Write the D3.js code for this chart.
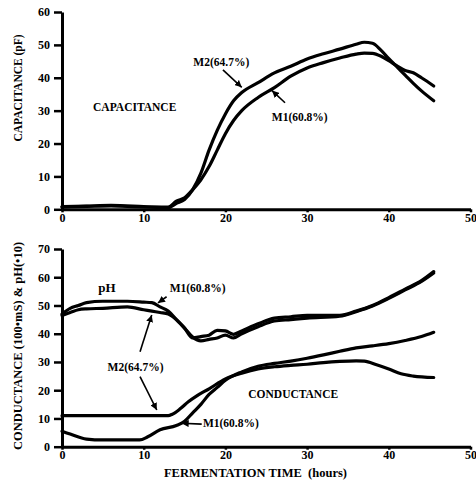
<!DOCTYPE html>
<html>
<head>
<meta charset="utf-8">
<script src="https://cdn.jsdelivr.net/npm/d3@7"></script>
<style>
  body { margin: 0; background: #fff; }
  text { font-family: "Liberation Serif", "DejaVu Serif", serif; font-weight: bold; fill: #000; }
</style>
</head>
<body>
<svg width="476" height="491"></svg>
<script>
// capacitance (pF), top panel
var capHours = [0, 3, 6, 10, 13, 14, 15, 16, 17, 18, 19, 20, 21, 22, 24, 26, 28, 30, 32, 34, 36, 37, 38, 39, 40, 41, 42, 43, 44, 45.5];
var capM2 = [0.8, 1, 1.2, 0.8, 0.5, 1.8, 3, 6, 11, 18, 24, 29, 33, 35.5, 38.5, 41.5, 43.5, 45.7, 47.3, 48.7, 50.2, 50.8, 50.5, 48.5, 45.8, 43.3, 40.8, 38.3, 36, 33];
var capM1 = [0.7, 0.9, 1, 0.7, 0.7, 2.5, 3.5, 6, 9, 13, 18, 23, 27, 30, 34, 37, 40.5, 43, 44.6, 46, 47.2, 47.5, 47.4, 46.6, 45.2, 43.6, 42.2, 41.5, 40, 37.5];

// pH (*10), bottom panel
var phHours = [0, 1, 2, 3, 5, 8, 10, 11, 12, 13, 14, 15, 16, 17, 18, 19, 20, 21, 22, 24, 26, 28, 30, 34, 36, 38, 40, 42, 44, 45.5];
var phM1 = [47, 49, 50, 51, 51.5, 51.5, 51.2, 51, 49.5, 48, 45, 42, 38.5, 39, 39.5, 41.2, 41, 39.8, 41, 43.5, 45.5, 46, 46.5, 46.5, 48, 50, 52.8, 55.8, 58.8, 62];
var phM2 = [46.5, 47.5, 48.5, 48.8, 49, 49.5, 48.5, 48, 47.5, 47, 45, 42, 38.8, 37.5, 38, 38.5, 39.5, 38.5, 40, 42.5, 44.5, 45, 45.5, 46.2, 47.8, 49.8, 52.5, 55.5, 58.5, 61.5];

// conductance (100*mS), bottom panel
var condHoursM1 = [0, 1, 3, 5, 9.5, 10.5, 12, 14, 15, 16, 17, 18, 19, 20, 22, 24, 26, 28, 30, 32, 34, 36, 38, 40, 42, 44, 45.5];
var condM1 = [5.5, 4.5, 2.7, 2.4, 2.4, 3.5, 6, 7.5, 9, 12, 15, 18.5, 21, 23.5, 26.5, 28.5, 29.5, 30.3, 31.3, 32.5, 33.8, 35, 35.7, 36.5, 37.6, 39, 40.5];
var condHoursM2 = [0, 5, 10, 13, 13.5, 14.5, 15.5, 16.5, 18, 20, 22, 24, 26, 28, 30, 32, 34, 36, 37, 38.5, 40, 41.5, 43, 45.5];
var condM2 = [11, 11, 11, 11, 11.5, 13.5, 16, 18, 20.5, 24, 26, 27.5, 28.3, 28.8, 29.2, 29.8, 30.2, 30.4, 30.3, 29, 27.5, 25.8, 25, 24.5];

var xTicks = [0, 10, 20, 30, 40, 50];
var capTicks = [0, 10, 20, 30, 40, 50, 60];
var condTicks = [0, 10, 20, 30, 40, 50, 60, 70];

var svg = d3.select('svg');

var xScale = d3.scaleLinear().domain([0, 50]).range([62, 470.5]);
var yTop = d3.scaleLinear().domain([0, 60]).range([209.3, 12]);
var yBot = d3.scaleLinear().domain([0, 70]).range([446.7, 249]);

svg.append('defs').append('marker')
    .attr('id', 'head')
    .attr('viewBox', '0 0 10 10')
    .attr('refX', 10)
    .attr('refY', 5)
    .attr('markerWidth', 7)
    .attr('markerHeight', 7)
    .attr('markerUnits', 'userSpaceOnUse')
    .attr('orient', 'auto')
  .append('path')
    .attr('d', 'M0,0 L10,5 L0,10 z')
    .attr('fill', '#000');

function drawAxes(yScale, ticks) {
    var xAxis = d3.axisBottom(xScale).tickValues(xTicks).tickSize(3).tickSizeOuter(0).tickPadding(1);
    var yAxis = d3.axisLeft(yScale).tickValues(ticks).tickSize(8).tickSizeOuter(0).tickPadding(4);

    var gx = svg.append('g')
        .attr('transform', 'translate(0,' + yScale(0) + ')')
        .call(xAxis);
    var gy = svg.append('g')
        .attr('transform', 'translate(' + xScale(0) + ',0)')
        .call(yAxis);

    [gx, gy].forEach(function(g) {
        g.select('.domain').attr('stroke', '#000').attr('stroke-width', 3);
        g.selectAll('.tick line').attr('stroke', '#000').attr('stroke-width', 2.5);
        g.selectAll('.tick text')
            .attr('font-family', '"Liberation Serif", serif')
            .attr('font-weight', 'bold')
            .attr('font-size', 12)
            .attr('fill', '#000');
    });
}

drawAxes(yTop, capTicks);
drawAxes(yBot, condTicks);

function drawLine(hours, values, yScale) {
    var line = d3.line()
        .x(function(d, i) { return xScale(hours[i]); })
        .y(function(d) { return yScale(d); })
        .curve(d3.curveMonotoneX);
    svg.append('path')
        .datum(values)
        .attr('d', line)
        .attr('fill', 'none')
        .attr('stroke', '#000')
        .attr('stroke-width', 3.2)
        .attr('stroke-linejoin', 'round')
        .attr('stroke-linecap', 'round');
}

drawLine(capHours, capM2, yTop);
drawLine(capHours, capM1, yTop);
drawLine(phHours, phM1, yBot);
drawLine(phHours, phM2, yBot);
drawLine(condHoursM1, condM1, yBot);
drawLine(condHoursM2, condM2, yBot);

function label(txt, h, v, yScale, size, anchor) {
    svg.append('text')
        .attr('x', xScale(h))
        .attr('y', yScale(v))
        .attr('text-anchor', anchor || 'middle')
        .attr('font-size', size)
        .text(txt);
}

function arrow(h1, v1, h2, v2, yScale) {
    svg.append('line')
        .attr('x1', xScale(h1)).attr('y1', yScale(v1))
        .attr('x2', xScale(h2)).attr('y2', yScale(v2))
        .attr('stroke', '#000')
        .attr('stroke-width', 1.6)
        .attr('marker-end', 'url(#head)');
}

// top panel annotations
label('CAPACITANCE', 8.9, 29.9, yTop, 11.5);
label('M2(64.7%)', 19.5, 43.6, yTop, 11.5);
arrow(19.7, 42.4, 22.0, 37.1, yTop);
label('M1(60.8%)', 29.1, 26.9, yTop, 11.5);
arrow(27.3, 32.4, 25.7, 36.1, yTop);

// bottom panel annotations
label('pH', 5.5, 54.7, yBot, 13);
label('M1(60.8%)', 16.6, 54.7, yBot, 11.5);
arrow(12.8, 53.1, 11.75, 50.9, yBot);
label('M2(64.7%)', 9.0, 26.8, yBot, 11.5);
arrow(9.55, 33.6, 10.98, 46.6, yBot);
arrow(9.55, 24.8, 11.6, 13.0, yBot);
label('CONDUCTANCE', 28.3, 17.4, yBot, 11.5);
label('M1(60.8%)', 17.25, 6.8, yBot, 11.5, 'start');
arrow(17.1, 8.0, 14.65, 8.3, yBot);

// axis titles
svg.append('text')
    .attr('transform', 'rotate(-90)')
    .attr('x', -88)
    .attr('y', 22)
    .attr('text-anchor', 'middle')
    .attr('font-size', 11.5)
    .text('CAPACITANCE (pF)');

svg.append('text')
    .attr('transform', 'rotate(-90)')
    .attr('x', -346)
    .attr('y', 22)
    .attr('text-anchor', 'middle')
    .attr('font-size', 12.5)
    .text('CONDUCTANCE (100\u2022mS) & pH(\u202210)');

svg.append('text')
    .attr('x', 255.5)
    .attr('y', 477)
    .attr('text-anchor', 'middle')
    .attr('font-size', 12.5)
    .text('FERMENTATION TIME \u00a0(hours)');
</script>
</body>
</html>
